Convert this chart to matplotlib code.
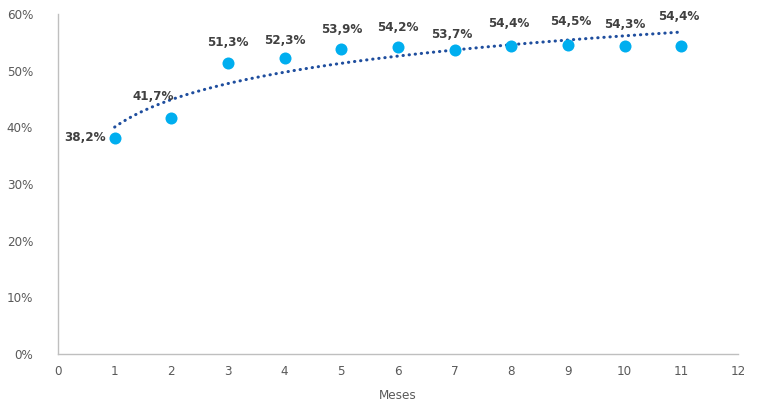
import numpy as np
import matplotlib.pyplot as plt
from matplotlib.ticker import FuncFormatter

# Data
meses = [1, 2, 3, 4, 5, 6, 7, 8, 9, 10, 11]
valores = [38.2, 41.7, 51.3, 52.3, 53.9, 54.2, 53.7, 54.4, 54.5, 54.3, 54.4]
etiquetas = ["38,2%", "41,7%", "51,3%", "52,3%", "53,9%", "54,2%",
             "53,7%", "54,4%", "54,5%", "54,3%", "54,4%"]

# label offsets in points (dx, dy)
offsets = [(-21, 0), (-13, 15), (0, 15), (0, 12), (0, 14), (0, 14),
           (-2, 11), (-2, 16), (2, 17), (0, 16), (-2, 21)]

plt.rcParams['font.family'] = ['DejaVu Sans']
stretch = 'condensed'

fig = plt.figure(figsize=(7.57, 4.04), dpi=100)
ax = fig.add_axes([58 / 757, 50 / 404, 680 / 757, 340 / 404])

# logarithmic trendline (least squares on ln x)
b, a = np.polyfit(np.log(meses), valores, 1)
xt = np.linspace(1, 11, 200)
ax.plot(xt, a + b * np.log(xt), color='#1F4E9E', lw=2.2, ls=(0, (0.1, 1.9)),
        dash_capstyle='round', zorder=2)

ax.scatter(meses, valores, s=75, color='#00AEEF', zorder=3, linewidths=0)

for x, y, t, (dx, dy) in zip(meses, valores, etiquetas, offsets):
    ax.annotate(t, (x, y), xytext=(dx, dy), textcoords='offset points',
                ha='center', va='center', fontsize=9.5, fontweight='bold',
                fontstretch=stretch, color='#404040', zorder=4)

ax.set_xlim(0, 12)
ax.set_ylim(0, 60)
ax.set_xticks(range(0, 13))
ax.set_yticks(range(0, 61, 10))
ax.yaxis.set_major_formatter(FuncFormatter(lambda v, p: f"{int(v)}%"))
ax.tick_params(length=0, labelsize=9.5, labelcolor='#595959', pad=8)
ax.tick_params(axis='y', pad=18)
for lab in ax.get_xticklabels() + ax.get_yticklabels():
    lab.set_fontstretch(stretch)
for s in ['top', 'right']:
    ax.spines[s].set_visible(False)
for s in ['left', 'bottom']:
    ax.spines[s].set_color('#BFBFBF')
    ax.spines[s].set_linewidth(1)
ax.set_xlabel('Meses', fontsize=9.5, color='#595959', labelpad=8,
              fontstretch=stretch)

fig.savefig('out.png', dpi=100)
